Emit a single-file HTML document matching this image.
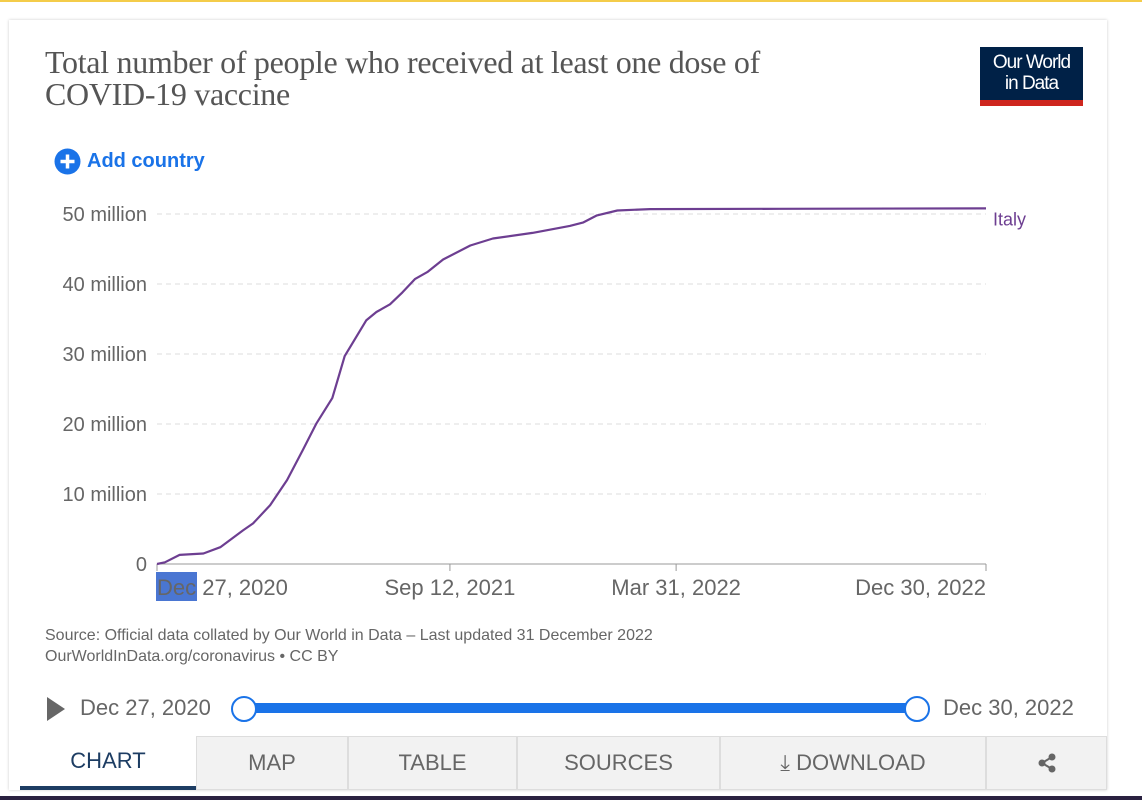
<!DOCTYPE html>
<html><head><meta charset="utf-8"><style>
body{margin:0;width:1142px;height:800px;background:#fff;position:relative;overflow:hidden;font-family:"Liberation Sans",sans-serif}
.abs{position:absolute}
</style></head><body>
<div class="abs" style="left:0;top:0;width:1142px;height:2px;background:#f4cc4a"></div>
<div class="abs" style="left:9px;top:20px;width:1098px;height:770px;background:#fff;box-shadow:0 0 3px rgba(0,0,0,0.2)"></div>
<div class="abs" style="left:45px;top:46px;width:830px;font-family:'Liberation Serif',serif;font-size:32px;line-height:32px;color:#555;letter-spacing:-0.3px">Total number of people who received at least one dose of COVID-19 vaccine</div>
<div class="abs" style="left:980px;top:47px;width:103px;height:59px;background:#002147;color:#fff;text-align:center;font-size:19px;line-height:21px;letter-spacing:-1px;padding-top:5px;box-sizing:border-box">Our World<br>in Data<div style="position:absolute;left:0;bottom:0;width:100%;height:6px;background:#ce261e"></div></div>
<div class="abs" style="left:54px;top:148px;font-size:20px;font-weight:bold;color:#1a73e8;display:flex;align-items:center;gap:6px"><svg width="27" height="27" viewBox="0 0 27 27"><circle cx="13.5" cy="13.5" r="13" fill="#1a73e8"/><path d="M13.5 6.5v14M6.5 13.5h14" stroke="#fff" stroke-width="3.5"/></svg>Add country</div>
<svg class="abs" style="left:0;top:0" width="1142" height="800" id="chart"></svg>
<div class="abs" style="left:45px;top:625px;font-size:16px;line-height:21px;color:#666">Source: Official data collated by Our World in Data – Last updated 31 December 2022<br>OurWorldInData.org/coronavirus • CC BY</div>
<div class="abs" style="left:47px;top:697px;width:0;height:0;border-left:18px solid #666;border-top:12px solid transparent;border-bottom:12px solid transparent"></div>
<div class="abs" style="left:80px;top:695px;font-size:22px;color:#666">Dec 27, 2020</div>
<div class="abs" style="left:244px;top:703px;width:673px;height:10px;background:#1a73e8"></div>
<div class="abs" style="left:231px;top:696px;width:22px;height:22px;border:2px solid #1a73e8;border-radius:50%;background:#fff"></div>
<div class="abs" style="left:904px;top:696px;width:22px;height:22px;border:2px solid #1a73e8;border-radius:50%;background:#fff"></div>
<div class="abs" style="left:943px;top:695px;font-size:22px;color:#666">Dec 30, 2022</div>
<div class="abs" style="left:20px;top:736px;width:1087px;height:54px;display:flex;font-size:22px;color:#666">
<div style="width:176px;display:flex;align-items:center;justify-content:center;background:#fff;color:#1d3d63;border-bottom:4px solid #1d3d63;box-sizing:border-box">CHART</div>
<div style="width:152px;display:flex;align-items:center;justify-content:center;background:#f2f2f2;border:1px solid #ddd;box-sizing:border-box">MAP</div>
<div style="width:169px;display:flex;align-items:center;justify-content:center;background:#f2f2f2;border:1px solid #ddd;box-sizing:border-box">TABLE</div>
<div style="width:203px;display:flex;align-items:center;justify-content:center;background:#f2f2f2;border:1px solid #ddd;box-sizing:border-box">SOURCES</div>
<div style="width:266px;display:flex;align-items:center;justify-content:center;background:#f2f2f2;border:1px solid #ddd;box-sizing:border-box">⤓ DOWNLOAD</div>
<div style="width:121px;display:flex;align-items:center;justify-content:center;background:#f2f2f2;border:1px solid #ddd;box-sizing:border-box"><svg width="20" height="20" viewBox="0 0 20 20"><circle cx="15" cy="4" r="3.5" fill="#666"/><circle cx="5" cy="10" r="3.5" fill="#666"/><circle cx="15" cy="16" r="3.5" fill="#666"/><path d="M15 4L5 10L15 16" stroke="#666" stroke-width="2" fill="none"/></svg></div>
</div>
<div class="abs" style="left:0;top:796px;width:1142px;height:4px;background:#2a2140"></div>
<script>
const days=[0,7,20,41,56,76,85,100,115,129,141,155,166,173,185,194,206,217,228,239,253,277,297,332,365,377,389,407,436,550,733];
const values=[0,0.25,1.3,1.5,2.4,4.8,5.8,8.4,12.0,16.3,20.1,23.7,29.7,31.6,34.8,36.0,37.1,38.8,40.7,41.7,43.5,45.5,46.5,47.3,48.3,48.8,49.8,50.5,50.7,50.75,50.8];
const yTicks=[0,10,20,30,40,50];
const yTickLabels=["0","10 million","20 million","30 million","40 million","50 million"];
const xTicks=[0,259,459,733];
const xTickLabels=["Dec 27, 2020","Sep 12, 2021","Mar 31, 2022","Dec 30, 2022"];
const seriesName="Italy";
const X0=157,X1=986,Y0=564,Y1=214,DMAX=733,VMAX=50;
const x=d=>X0+(X1-X0)*d/DMAX, y=v=>Y0-(Y0-Y1)*v/VMAX;
const svg=document.getElementById('chart'),NS='http://www.w3.org/2000/svg';
function mk(t,a){const e=document.createElementNS(NS,t);for(const k in a)e.setAttribute(k,a[k]);svg.appendChild(e);return e;}
yTicks.forEach((v,i)=>{
 if(v>0){const g=mk('line',{x1:X0,x2:X1,y1:y(v),y2:y(v),stroke:'#ddd','stroke-dasharray':'5,4'});
 
 }
 const t=mk('text',{x:147,y:y(v)+7,'text-anchor':'end','font-size':20,fill:'#666','font-family':'Liberation Sans,sans-serif'});t.textContent=yTickLabels[i];
 
 
});
const ax=mk('line',{x1:X0,x2:X1,y1:Y0,y2:Y0,stroke:'#999','stroke-width':1});


mk('rect',{x:156,y:572,width:41,height:29,fill:'#4a76d2'});
xTicks.forEach((d,i)=>{
 const tk=mk('line',{x1:x(d),x2:x(d),y1:Y0,y2:Y0+7,stroke:'#999'});
 
 
 const anchor=i===0?'start':(i===xTicks.length-1?'end':'middle');
 const t=mk('text',{x:x(d),y:595,'text-anchor':anchor,'font-size':22,fill:'#666','font-family':'Liberation Sans,sans-serif'});t.textContent=xTickLabels[i];
 
 
});
const p=mk('path',{d:days.map((d,i)=>(i?'L':'M')+x(d).toFixed(1)+' '+y(values[i]).toFixed(1)).join(' '),fill:'none',stroke:'#6d3e91','stroke-width':2.2,'stroke-linejoin':'round'});


const lb=mk('text',{x:993,y:y(values[values.length-1])+17,'font-size':18,fill:'#6d3e91','font-family':'Liberation Sans,sans-serif'});lb.textContent=seriesName;


</script>
</body></html>
